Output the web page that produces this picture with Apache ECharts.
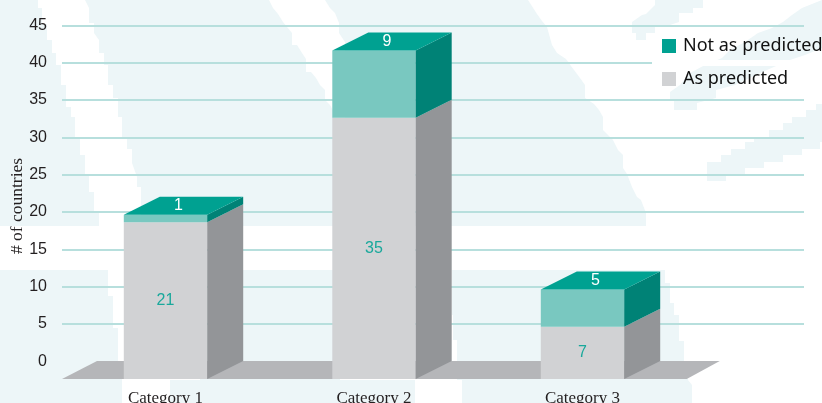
<!DOCTYPE html>
<html><head><meta charset="utf-8">
<style>html,body{margin:0;padding:0;background:#fff}#c{width:822px;height:403px}</style>
<script src="https://cdn.jsdelivr.net/npm/echarts@6/dist/echarts.min.js"></script>
</head><body><div id="c"></div>
<script>
var categories = ['Category 1', 'Category 2', 'Category 3'];
var asPredicted = [21, 35, 7];
var notAsPredicted = [1, 9, 5];
var yTicks = [0, 5, 10, 15, 20, 25, 30, 35, 40, 45];

var DX = 36, DY = 18;
var C = {topFace:'#00a191', tealFront:'#79c8c0', tealSide:'#008276', grayFront:'#d1d2d4', graySide:'#939598',
         floor:'#b5b6b9', grid:'#b7dfdd', map:'#edf6f8', label:'#19a89b', ink:'#231f20'};

// pale decorative world-map backdrop (outline estimates)
var mapShapes = [
 [[0,0],[38,0],[38,8],[42,8],[42,24],[47,24],[47,40],[52,40],[52,53],[56,53],[56,65],[61,65],[61,85],[66,85],[66,107],[71,107],[71,117],[75,117],[75,138],[80,138],[80,155],[85,155],[85,175],[89,175],[89,192],[94,192],[94,212],[99,212],[99,226],[0,226]],
 [[85,0],[269,0],[273,8],[278,14],[283,22],[287,27],[292,33],[292,45],[297,45],[302,53],[306,59],[306,72],[311,72],[316,78],[320,85],[325,90],[325,100],[330,105],[334,112],[334,226],[141,226],[141,187],[137,187],[137,177],[132,163],[132,149],[127,149],[127,138],[122,138],[122,117],[118,117],[118,98],[113,98],[113,85],[108,85],[108,65],[104,65],[104,53],[99,53],[99,40],[94,33],[94,23],[89,23],[89,8]],
 [[325,0],[528,0],[537,14],[542,21],[547,27],[552,45],[557,53],[566,59],[571,66],[580,78],[585,85],[585,98],[594,104],[599,110],[603,117],[603,130],[608,135],[613,140],[618,150],[623,155],[623,168],[627,174],[632,187],[637,197],[641,200],[646,213],[646,226],[345,226],[345,42],[339,33],[339,23],[335,13],[330,8]],
 [[655,0],[703,0],[703,8],[693,8],[693,13],[679,13],[679,22],[670,25],[655,25],[655,33],[646,33],[646,40],[636,40],[636,33],[632,33],[632,22],[642,15],[646,14],[655,5]],
 [[822,0],[802,8],[792,15],[783,22],[772,28],[758,33],[745,42],[730,50],[722,58],[705,65],[690,73],[680,85],[670,92],[670,100],[674,100],[674,110],[697,110],[697,103],[716,98],[716,90],[735,85],[760,73],[790,60],[805,55],[822,48]],
 [[822,104],[816,104],[816,110],[806,110],[806,117],[792,117],[792,123],[783,123],[783,130],[769,130],[769,137],[754,137],[754,142],[745,142],[745,149],[731,149],[731,155],[721,155],[721,162],[707,162],[707,181],[726,181],[726,174],[745,174],[745,168],[764,168],[764,162],[783,162],[783,155],[802,155],[802,149],[820,149],[820,142],[822,142]],
 [[0,270],[108,270],[108,296],[113,296],[113,328],[118,328],[118,360],[122,380],[122,403],[0,403]],
 [[200,270],[340,270],[340,380],[200,380]],
 [[170,380],[415,380],[415,403],[170,403]],
 [[452,270],[665,270],[665,283],[670,283],[670,303],[674,303],[674,315],[679,315],[679,341],[684,341],[684,361],[688,380],[692,385],[692,403],[462,403],[462,380],[457,380],[457,340],[453,340],[453,315],[452,315]]
];

var graphics = mapShapes.map(function (pts) {
  return {type:'polygon', silent:true, z:-10, shape:{points:pts}, style:{fill:C.map}};
});
// legend box interrupts the 40 grid line
graphics.push({type:'rect', silent:true, z:5, shape:{x:652,y:60,width:154,height:6}, style:{fill:'#fff'}});
graphics.push({type:'text', silent:true, z:5, x:17, y:206, rotation:Math.PI/2, style:{
  text:'# of countries', fill:C.ink, font:'17.5px "Liberation Serif"', textAlign:'center', textVerticalAlign:'middle'}});

function poly(pts, fill){ return {type:'polygon', shape:{points:pts}, style:{fill:fill}}; }

function block(api, base, top, frontCol, sideCol, withTop){
  var i = api.value(0);
  var c0 = api.coord([i, base]), c1 = api.coord([i, top]);
  var w = api.size([1, 0])[0] * 0.4;
  var l = c0[0] - w / 2, r = c0[0] + w / 2, b = c0[1], t = c1[1];
  var kids = [
    poly([[l,b],[r,b],[r,t],[l,t]], frontCol),
    poly([[r,b],[r+DX,b-DY],[r+DX,t-DY],[r,t]], sideCol)
  ];
  if (withTop) kids.push(poly([[l,t],[r,t],[r+DX,t-DY],[l+DX,t-DY]], C.topFace));
  return {l:l, r:r, b:b, t:t, kids:kids};
}

var option = {
  animation:false,
  backgroundColor:'#fff',
  graphic:{elements:graphics},
  legend:{
    orient:'vertical', left:662, top:34, padding:0, itemWidth:14, itemHeight:14, itemGap:9, icon:'rect',
    data:['Not as predicted','As predicted'], selectedMode:false,
    textStyle:{fontFamily:'"Noto Sans"', fontSize:18, lineHeight:24, color:'#111', padding:[0,0,0,2]}
  },
  grid:[
    {left:62, width:742, top:25.3, height:336, outerBoundsMode:'none'},
    {left:61.25, width:625.5, top:43, height:336, outerBoundsMode:'none'}
  ],
  xAxis:[
    {gridIndex:0, type:'value', show:false, min:0, max:1},
    {gridIndex:1, type:'category', data:categories, axisLine:{show:false}, axisTick:{show:false},
     axisLabel:{margin:11, fontFamily:'"Liberation Serif"', fontSize:17, color:C.ink}}
  ],
  yAxis:[
    {gridIndex:0, type:'value', min:yTicks[0], max:yTicks[yTicks.length-1], interval:5,
     axisLine:{show:false}, axisTick:{show:false},
     splitLine:{show:true, showMinLine:false, lineStyle:{color:C.grid, width:2}},
     axisLabel:{margin:15, fontFamily:'"Liberation Sans"', fontSize:16, color:C.ink}},
    {gridIndex:1, type:'value', min:yTicks[0], max:yTicks[yTicks.length-1], interval:5, show:false}
  ],
  series:[
    {type:'custom', name:'floor', xAxisIndex:1, yAxisIndex:1, silent:true, data:[[0,0]],
     renderItem:function(params, api){
       var cs = params.coordSys, x0 = cs.x + 0.75, x1 = cs.x + cs.width, y = api.coord([0,0])[1];
       return poly([[x0,y],[x1,y],[x1+33,y-DY],[x0+35,y-DY]], C.floor);
     }},
    {type:'custom', name:'As predicted', xAxisIndex:1, yAxisIndex:1, itemStyle:{color:C.grayFront},
     data:asPredicted.map(function(v,i){return [i,v];}),
     encode:{x:0,y:1},
     renderItem:function(params, api){
       var v = api.value(1), g = block(api, 0, v, C.grayFront, C.graySide, false);
       g.kids.push({type:'text', x:(g.l+g.r)/2, y:(g.t+g.b)/2, style:{text:String(v), fill:C.label,
         font:'16px "Liberation Sans"', textAlign:'center', textVerticalAlign:'middle'}});
       return {type:'group', children:g.kids};
     }},
    {type:'custom', name:'Not as predicted', xAxisIndex:1, yAxisIndex:1, itemStyle:{color:C.topFace},
     data:notAsPredicted.map(function(v,i){return [i,v];}),
     encode:{x:0,y:1},
     renderItem:function(params, api){
       var i = api.value(0), v = api.value(1), base = asPredicted[i];
       var g = block(api, base, base + v, C.tealFront, C.tealSide, true);
       g.kids.push({type:'text', x:(g.l+g.r)/2 + DX/2 - 5, y:g.t - DY/2, style:{text:String(v), fill:'#fff',
         font:'16px "Liberation Sans"', textAlign:'center', textVerticalAlign:'middle'}});
       return {type:'group', children:g.kids};
     }}
  ]
};
var chart = echarts.init(document.getElementById('c'), null, {renderer:'canvas'});
chart.setOption(option);
</script></body></html>
